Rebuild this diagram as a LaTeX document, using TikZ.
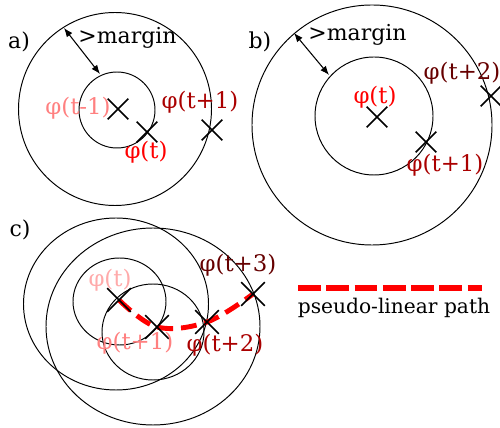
\documentclass[tikz,border=0pt]{standalone}
\usepackage{fontspec}
\setmainfont{DejaVu Serif}
\usetikzlibrary{arrows.meta, shapes.misc}

\definecolor{phiLight}{HTML}{FFAAAA}
\definecolor{phiPink}{HTML}{FF8080}
\definecolor{phiRed}{HTML}{FF0000}
\definecolor{phiDark}{HTML}{AA0000}
\definecolor{phiMaroon}{HTML}{660000}

\begin{document}
\begin{tikzpicture}[
	x=0.02cm, y=-0.02cm,
	ring/.style={draw, line width=0.55pt},
	xmark/.style={draw, cross out, minimum size=0.38cm, inner sep=0pt, line width=0.9pt},
	bigxmark/.style={xmark, minimum size=0.44cm},
	lab/.style={inner sep=1pt, font=\fontsize{13}{15}\selectfont},
	tag/.style={inner sep=1pt, font=\fontsize{12.5}{15}\selectfont},
	arrow/.style={{Latex[length=1.8mm,width=1.4mm]}-{Latex[length=1.8mm,width=1.4mm]}, line width=0.6pt},
	pseudo/.style={red, line width=2.8pt, dash pattern=on 9pt off 4.5pt},
	legendline/.style={red, line width=2.9pt, dash pattern=on 13pt off 3.1pt}
]
	\useasboundingbox (0,0) rectangle (500,428);

	% a)
	\draw[ring] (115,109) circle[radius=96.5];
	\draw[ring] (117,110) circle[radius=38];
	\node[xmark] (a1) at (118,109) {};
	\node[xmark] (a2) at (147,132) {};
	\node[xmark] (a3) at (212,130) {};
	\coordinate (aout) at (64,28);
	\coordinate (ain) at (100,74);
	\draw[arrow] (aout) -- (ain);
	\node[tag] (atag) at (19,42) {a)};
	\node[tag] (amargin) at (127.5,38) {>margin};
	\node[lab, text=phiPink] (alab1) at (78,108) {φ(t-1)};
	\node[lab, text=phiRed] (alab2) at (146,152) {φ(t)};
	\node[lab, text=phiDark] (alab3) at (200,102) {φ(t+1)};

	% b)
	\draw[ring] (372,125) circle[radius=120];
	\draw[ring] (374,116) circle[radius=59];
	\node[xmark] (b1) at (377,117) {};
	\node[xmark] (b2) at (426,142) {};
	\node[xmark] (b3) at (491,96) {};
	\coordinate (bout) at (294,33);
	\coordinate (bin) at (329,75);
	\draw[arrow] (bout) -- (bin);
	\node[tag] (btag) at (260,42) {b)};
	\node[tag] (bmargin) at (357.5,35) {>margin};
	\node[lab, text=phiRed] (blab1) at (375,97) {φ(t)};
	\node[lab, text=phiDark] (blab2) at (445,165) {φ(t+1)};
	\node[lab, text=phiMaroon] (blab3) at (462,73) {φ(t+2)};

	% c)
	\draw[ring] (119.5,301.5) ellipse[x radius=46.5, y radius=43.5];
	\draw[ring] (153,332) ellipse[x radius=51, y radius=48];
	\draw[ring] (116,304) ellipse[x radius=92.5, y radius=86];
	\draw[ring] (153,326.5) ellipse[x radius=107, y radius=98.5];
	\coordinate (c0) at (119,300);
	\coordinate (c1) at (157,327);
	\coordinate (c2) at (207,322);
	\coordinate (c3) at (253,294);
	\draw[pseudo] plot[smooth, tension=0.6] coordinates {(c0) (c1) (c2) (c3)};
	\node[bigxmark] (cx0) at (c0) {};
	\node[bigxmark] (cx1) at (c1) {};
	\node[bigxmark] (cx2) at (c2) {};
	\node[bigxmark] (cx3) at (c3) {};
	\node[tag] (ctag) at (20,230) {c)};
	\node[lab, text=phiLight] (clab0) at (110,280) {φ(t)};
	\node[lab, text=phiPink] (clab1) at (135,343) {φ(t+1)};
	\node[lab, text=phiDark] (clab2) at (225,345) {φ(t+2)};
	\node[lab, text=phiMaroon] (clab3) at (238,265) {φ(t+3)};

	\coordinate (lg1) at (298,288);
	\coordinate (lg2) at (482,288);
	\draw[legendline] (lg1) -- (lg2);
	\node[inner sep=1pt, font=\fontsize{11.5}{14}\selectfont] (lgtext) at (394,308) {pseudo-linear path};
\end{tikzpicture}
\end{document}
